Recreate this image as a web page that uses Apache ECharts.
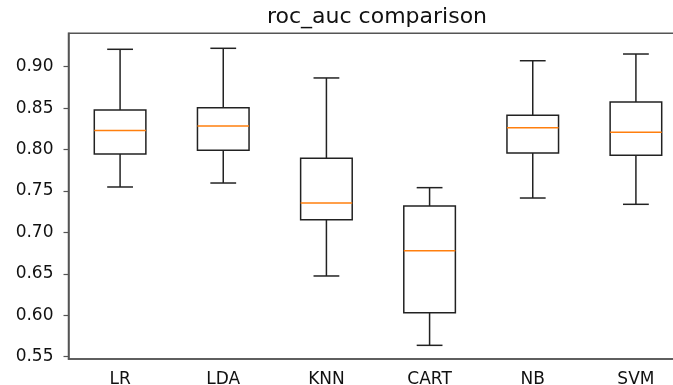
<!DOCTYPE html>
<html>
<head>
<meta charset="utf-8">
<script src="https://cdn.jsdelivr.net/npm/echarts@6/dist/echarts.min.js"></script>
<style>
  html, body { margin: 0; padding: 0; background: #fff; overflow: hidden; }
  #chart { width: 673px; height: 385px; }
</style>
</head>
<body>
<div id="chart"></div>
<script>
  // model names and the five box numbers
  const models = ['LR', 'LDA', 'KNN', 'CART', 'NB', 'SVM']
  const whiskerLow = [0.7548, 0.7596, 0.6474, 0.5637, 0.7415, 0.7339]
  const q1 = [0.7946, 0.7991, 0.7154, 0.6031, 0.7958, 0.7931]
  const median = [0.8230, 0.8284, 0.7355, 0.6779, 0.8264, 0.8208]
  const q3 = [0.8477, 0.8505, 0.7895, 0.7319, 0.8413, 0.8574]
  const whiskerHigh = [0.9210, 0.9222, 0.8864, 0.7540, 0.9072, 0.9153]
  const yTicks = [0.55, 0.60, 0.65, 0.70, 0.75, 0.80, 0.85, 0.90]

  const boxRows = models.map((m, i) => [i, whiskerLow[i], q1[i], median[i], q3[i], whiskerHigh[i]])

  const font = 'DejaVu Sans'
  const ink = '#222'
  const spine = '#555'

  /**
   * matplotlib style box: box half a band wide, caps a quarter, orange median
   */
  function renderBox(params, api) {
    const i = api.value(0)
    const band = api.size([1, 0])[0]
    const bw = band * 0.5
    const cw = band * 0.25
    const pLow = api.coord([i, api.value(1)])
    const pQ1 = api.coord([i, api.value(2)])
    const pMed = api.coord([i, api.value(3)])
    const pQ3 = api.coord([i, api.value(4)])
    const pHigh = api.coord([i, api.value(5)])
    const cx = pMed[0]
    const line = { stroke: ink, lineWidth: 1.5 }
    return {
      type: 'group',
      children: [
        { type: 'rect', shape: { x: cx - bw / 2, y: pQ3[1], width: bw, height: pQ1[1] - pQ3[1] }, style: { fill: null, ...line } },
        { type: 'line', shape: { x1: cx, y1: pQ1[1], x2: cx, y2: pLow[1] }, style: line },
        { type: 'line', shape: { x1: cx, y1: pQ3[1], x2: cx, y2: pHigh[1] }, style: line },
        { type: 'line', shape: { x1: cx - cw / 2, y1: pLow[1], x2: cx + cw / 2, y2: pLow[1] }, style: line },
        { type: 'line', shape: { x1: cx - cw / 2, y1: pHigh[1], x2: cx + cw / 2, y2: pHigh[1] }, style: line },
        { type: 'line', shape: { x1: cx - bw / 2, y1: pMed[1], x2: cx + bw / 2, y2: pMed[1] }, style: { stroke: '#ff7f0e', lineWidth: 1.5 } },
      ],
    }
  }

  const chart = echarts.init(document.getElementById('chart'))

  const option = {
    animation: false,
    backgroundColor: '#fff',
    title: {
      text: 'roc_auc comparison',
      left: 377,
      top: 6,
      padding: 0,
      textAlign: 'center',
      textStyle: { fontFamily: font, fontSize: 22, fontWeight: 'normal', color: '#111' },
    },
    grid: {
      left: 68.5,
      width: 619,
      top: 33.3,
      bottom: 26,
      outerBoundsMode: 'none',
      containLabel: false,
      show: true,
      borderColor: spine,
      borderWidth: 1.5,
      backgroundColor: 'transparent',
    },
    xAxis: {
      type: 'category',
      data: models,
      boundaryGap: true,
      axisLine: { lineStyle: { color: spine, width: 1.5 } },
      axisTick: { alignWithLabel: true, length: 5, lineStyle: { color: spine, width: 1.2 } },
      axisLabel: { margin: 12, fontFamily: font, fontSize: 17, color: '#111' },
      splitLine: { show: false },
    },
    yAxis: {
      type: 'value',
      min: 0.5472,
      max: 0.9403,
      axisLine: { show: true, lineStyle: { color: spine, width: 1.5 } },
      axisTick: { show: true, length: 5, customValues: yTicks, lineStyle: { color: spine, width: 1.2 } },
      axisLabel: {
        margin: 15,
        fontFamily: font,
        fontSize: 17,
        color: '#111',
        customValues: yTicks,
        formatter: (v) => v.toFixed(2),
      },
      splitLine: { show: false },
    },
    series: [
      {
        type: 'custom',
        renderItem: renderBox,
        data: boxRows,
        encode: { x: 0, y: [1, 2, 3, 4, 5] },
        clip: false,
      },
    ],
  }

  chart.setOption(option)
</script>
</body>
</html>
